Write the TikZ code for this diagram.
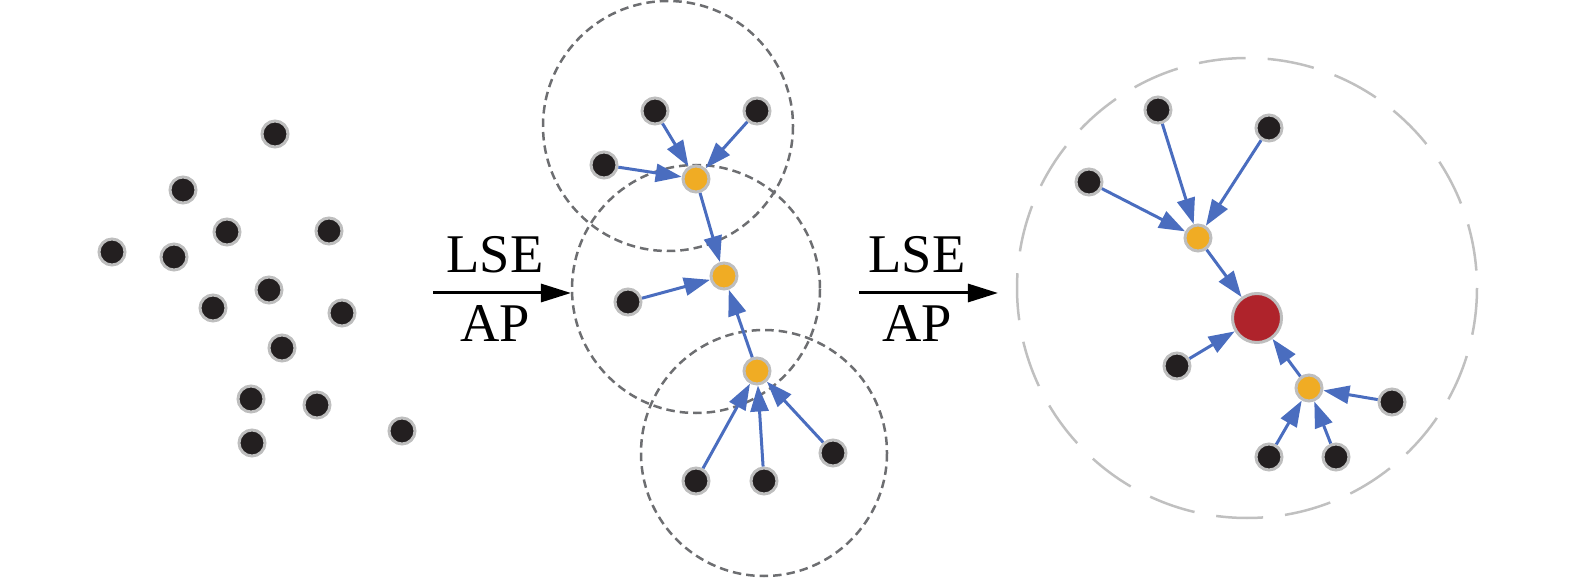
\documentclass[tikz,border=0pt]{standalone}
\usepackage{fontspec}
\setmainfont{Liberation Serif}
\usetikzlibrary{arrows.meta,positioning}
\definecolor{dotblack}{HTML}{231F20}
\definecolor{dotgray}{HTML}{BEBEBE}
\definecolor{dotorange}{HTML}{F0AC24}
\definecolor{dotred}{HTML}{AF232B}
\definecolor{linkblue}{HTML}{4A6DBF}
\definecolor{ringgray}{HTML}{6D6E71}
\definecolor{ringlight}{HTML}{C0C0C0}
\tikzset{
  pt/.style={circle, inner sep=0pt, minimum size=0.26cm, draw=dotgray, line width=0.03cm, fill=dotblack},
  hub/.style={pt, fill=dotorange},
  root/.style={pt, fill=dotred, minimum size=0.49cm},
  link/.style={draw=linkblue, line width=0.03cm, -{Triangle[length=0.26cm,width=0.18cm]}},
  ring/.style={draw=ringgray, line width=0.025cm, dash pattern=on 0.085cm off 0.05cm},
  bigring/.style={draw=ringlight, line width=0.025cm, dash pattern=on 0.47cm off 0.22cm},
  step arrow/.style={line width=0.03cm, -{Triangle[length=0.3cm,width=0.18cm]}},
  lbl/.style={anchor=base, inner sep=0pt, font=\fontsize{15.5}{18}\selectfont},
}
\begin{document}
\begin{tikzpicture}[x=0.01cm, y=-0.01cm]
	\useasboundingbox (0,0) rectangle (1575,579);
	
	% raw points
	\node[pt] (p1) at (275,134) {};
	\node[pt] (p2) at (183,190) {};
	\node[pt] (p3) at (227,232) {};
	\node[pt] (p4) at (329,231) {};
	\node[pt] (p5) at (112,252) {};
	\node[pt] (p6) at (174,257) {};
	\node[pt] (p7) at (269,290) {};
	\node[pt] (p8) at (213,308) {};
	\node[pt] (p9) at (342,313) {};
	\node[pt] (p10) at (282,348) {};
	\node[pt] (p11) at (251,399) {};
	\node[pt] (p12) at (317,405) {};
	\node[pt] (p13) at (252,443) {};
	\node[pt] (p14) at (402,431) {};
	
	% first step
	\coordinate (s1a) at (433,293);
	\coordinate (s1b) at (571,293);
	\draw[step arrow] (s1a) -- (s1b);
	\node[lbl] (lse1) at (495,273) {LSE};
	\node[lbl] (ap1) at (495,341) {AP};
	
	% local clusters
	\draw[ring] (668,126) circle (125);
	\draw[ring] (696,289) circle (124);
	\draw[ring] (764,453) circle (123);
	
	\node[pt] (m1) at (655,111) {};
	\node[pt] (m2) at (757,111) {};
	\node[pt] (m3) at (604,165) {};
	\node[hub] (h1) at (696,179) {};
	\node[hub] (h2) at (724,276) {};
	\node[pt] (m4) at (628,302) {};
	\node[hub] (h3) at (757,371) {};
	\node[pt] (m5) at (696,481) {};
	\node[pt] (m6) at (764,481) {};
	\node[pt] (m7) at (833,453) {};
	
	\draw[link] (m1) -- (h1);
	\draw[link] (m2) -- (h1);
	\draw[link] (m3) -- (h1);
	\draw[link] (h1) -- (h2);
	\draw[link] (m4) -- (h2);
	\draw[link] (h3) -- (h2);
	\draw[link] (m5) -- (h3);
	\draw[link] (m6) -- (h3);
	\draw[link] (m7) -- (h3);
	
	% second step
	\coordinate (s2a) at (859,293);
	\coordinate (s2b) at (998,293);
	\draw[step arrow] (s2a) -- (s2b);
	\node[lbl] (lse2) at (917,273) {LSE};
	\node[lbl] (ap2) at (917,341) {AP};
	
	% merged tree
	\draw[bigring] (1247,288) circle (230);
	
	\node[pt] (r1) at (1158,110) {};
	\node[pt] (r2) at (1269,128) {};
	\node[pt] (r3) at (1089,182) {};
	\node[hub] (g1) at (1198,238) {};
	\node[root] (c) at (1257,318) {};
	\node[pt] (r4) at (1177,366) {};
	\node[hub] (g2) at (1309,388) {};
	\node[pt] (r5) at (1392,402) {};
	\node[pt] (r6) at (1269,457) {};
	\node[pt] (r7) at (1336,457) {};
	
	\draw[link] (r1) -- (g1);
	\draw[link] (r2) -- (g1);
	\draw[link] (r3) -- (g1);
	\draw[link] (g1) -- (c);
	\draw[link] (r4) -- (c);
	\draw[link] (g2) -- (c);
	\draw[link] (r5) -- (g2);
	\draw[link] (r6) -- (g2);
	\draw[link] (r7) -- (g2);
\end{tikzpicture}
\end{document}
